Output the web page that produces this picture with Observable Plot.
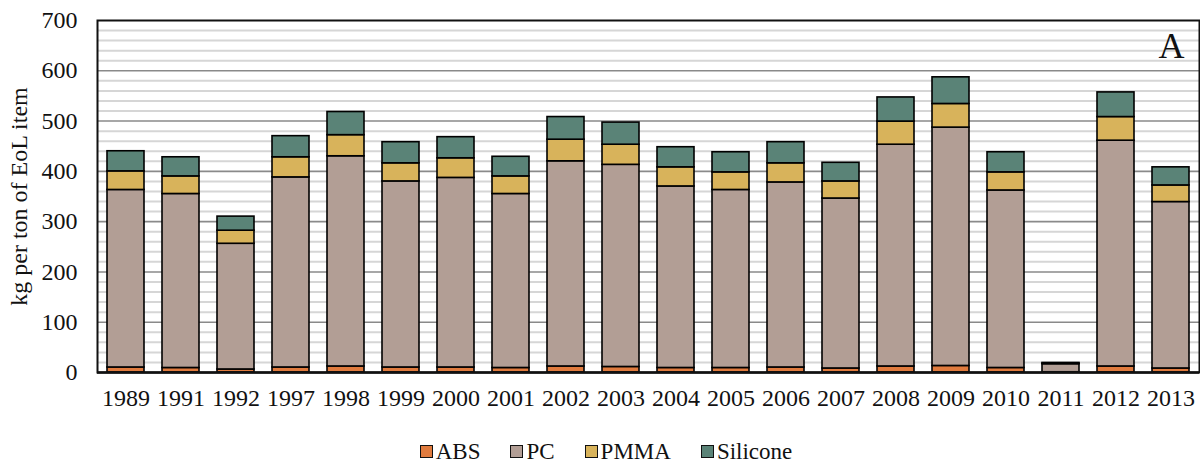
<!DOCTYPE html>
<html>
<head>
<meta charset="utf-8">
<script src="https://cdn.jsdelivr.net/npm/d3@7"></script>
<script src="https://cdn.jsdelivr.net/npm/@observablehq/plot@0.6"></script>
<style>
  html, body { margin: 0; padding: 0; background: #fff; }
  #chart svg { display: block; }
  #legend { display: flex; justify-content: center; gap: 30px; font-family: "Liberation Serif", "Times New Roman", serif; font-size: 23px; color: #111; margin-top: 20px; padding-left: 12px; line-height: 1; }
  #legend .item { display: flex; align-items: center; gap: 3px; }
  #legend .sw { width: 11px; height: 11px; border: 1.6px solid #111; }
</style>
</head>
<body>
<div id="chart"></div>
<div id="legend"></div>
<script>
const years = ["1989","1991","1992","1997","1998","1999","2000","2001","2002","2003","2004","2005","2006","2007","2008","2009","2010","2011","2012","2013"];
const materials = ["ABS", "PC", "PMMA", "Silicone"];
const colors = ["#E07B3E", "#B29E95", "#D8B35B", "#5A8377"];
const absVals      = [10, 9, 6, 10, 12, 10, 10, 9, 12, 11, 9, 9, 10, 8, 12, 13, 9, 0.5, 12, 8];
const pcVals       = [353, 346, 250, 378, 418, 370, 377, 346, 408, 402, 361, 354, 368, 338, 441, 474, 353, 16, 449, 331];
const pmmaVals     = [37, 35, 26, 40, 42, 36, 39, 35, 43, 40, 38, 35, 38, 34, 46, 47, 36, 1, 47, 33];
const siliconeVals = [40, 38, 28, 42, 46, 42, 42, 39, 45, 44, 40, 40, 42, 37, 48, 53, 40, 1.5, 49, 36];
const yTicks = [0, 100, 200, 300, 400, 500, 600, 700];
const minorTicks = d3.range(20, 700, 20).filter(v => v % 100 !== 0);

const series = [absVals, pcVals, pmmaVals, siliconeVals];
const data = [];
materials.forEach((m, i) => years.forEach((y, j) => data.push({year: y, material: m, value: series[i][j]})));

const serif = "'Liberation Serif', 'Times New Roman', serif";

const chart = Plot.plot({
  width: 1200,
  height: 420,
  marginLeft: 97,
  marginRight: 1,
  marginTop: 20,
  marginBottom: 48,
  style: { fontFamily: serif, fontSize: "24px", color: "#111", background: "#fff" },
  x: { domain: years, paddingInner: 0.33, paddingOuter: 0.18, label: null, tickSize: 0, tickPadding: 16 },
  y: { domain: [0, 700], ticks: yTicks, label: "kg per ton of EoL item", labelAnchor: "center", labelArrow: "none", tickSize: 0, tickPadding: 20, labelOffset: 88 },
  color: { domain: materials, range: colors },
  marks: [
    Plot.ruleY(minorTicks, { stroke: "#d6d6d6", strokeWidth: 2 }),
    Plot.ruleY(yTicks.filter(v => v > 0 && v < 700), { stroke: "#8a8a8a", strokeWidth: 1.6 }),
    Plot.barY(data, { x: "year", y: "value", fill: "material", stroke: "#000", strokeWidth: 1.6, order: materials }),
    Plot.frame({ stroke: "#111", strokeWidth: 2 }),
    Plot.ruleY([0], { stroke: "#111", strokeWidth: 2.5 }),
    Plot.text(["A"], { frameAnchor: "top-right", dx: -15, dy: 12, fontSize: 36, fontFamily: serif, fill: "#111" })
  ]
});
document.getElementById("chart").appendChild(chart);

const legend = document.getElementById("legend");
materials.forEach((m, i) => {
  const item = document.createElement("div");
  item.className = "item";
  const sw = document.createElement("span");
  sw.className = "sw";
  sw.style.background = colors[i];
  const t = document.createElement("span");
  t.textContent = m;
  item.appendChild(sw);
  item.appendChild(t);
  legend.appendChild(item);
});
</script>
</body>
</html>
